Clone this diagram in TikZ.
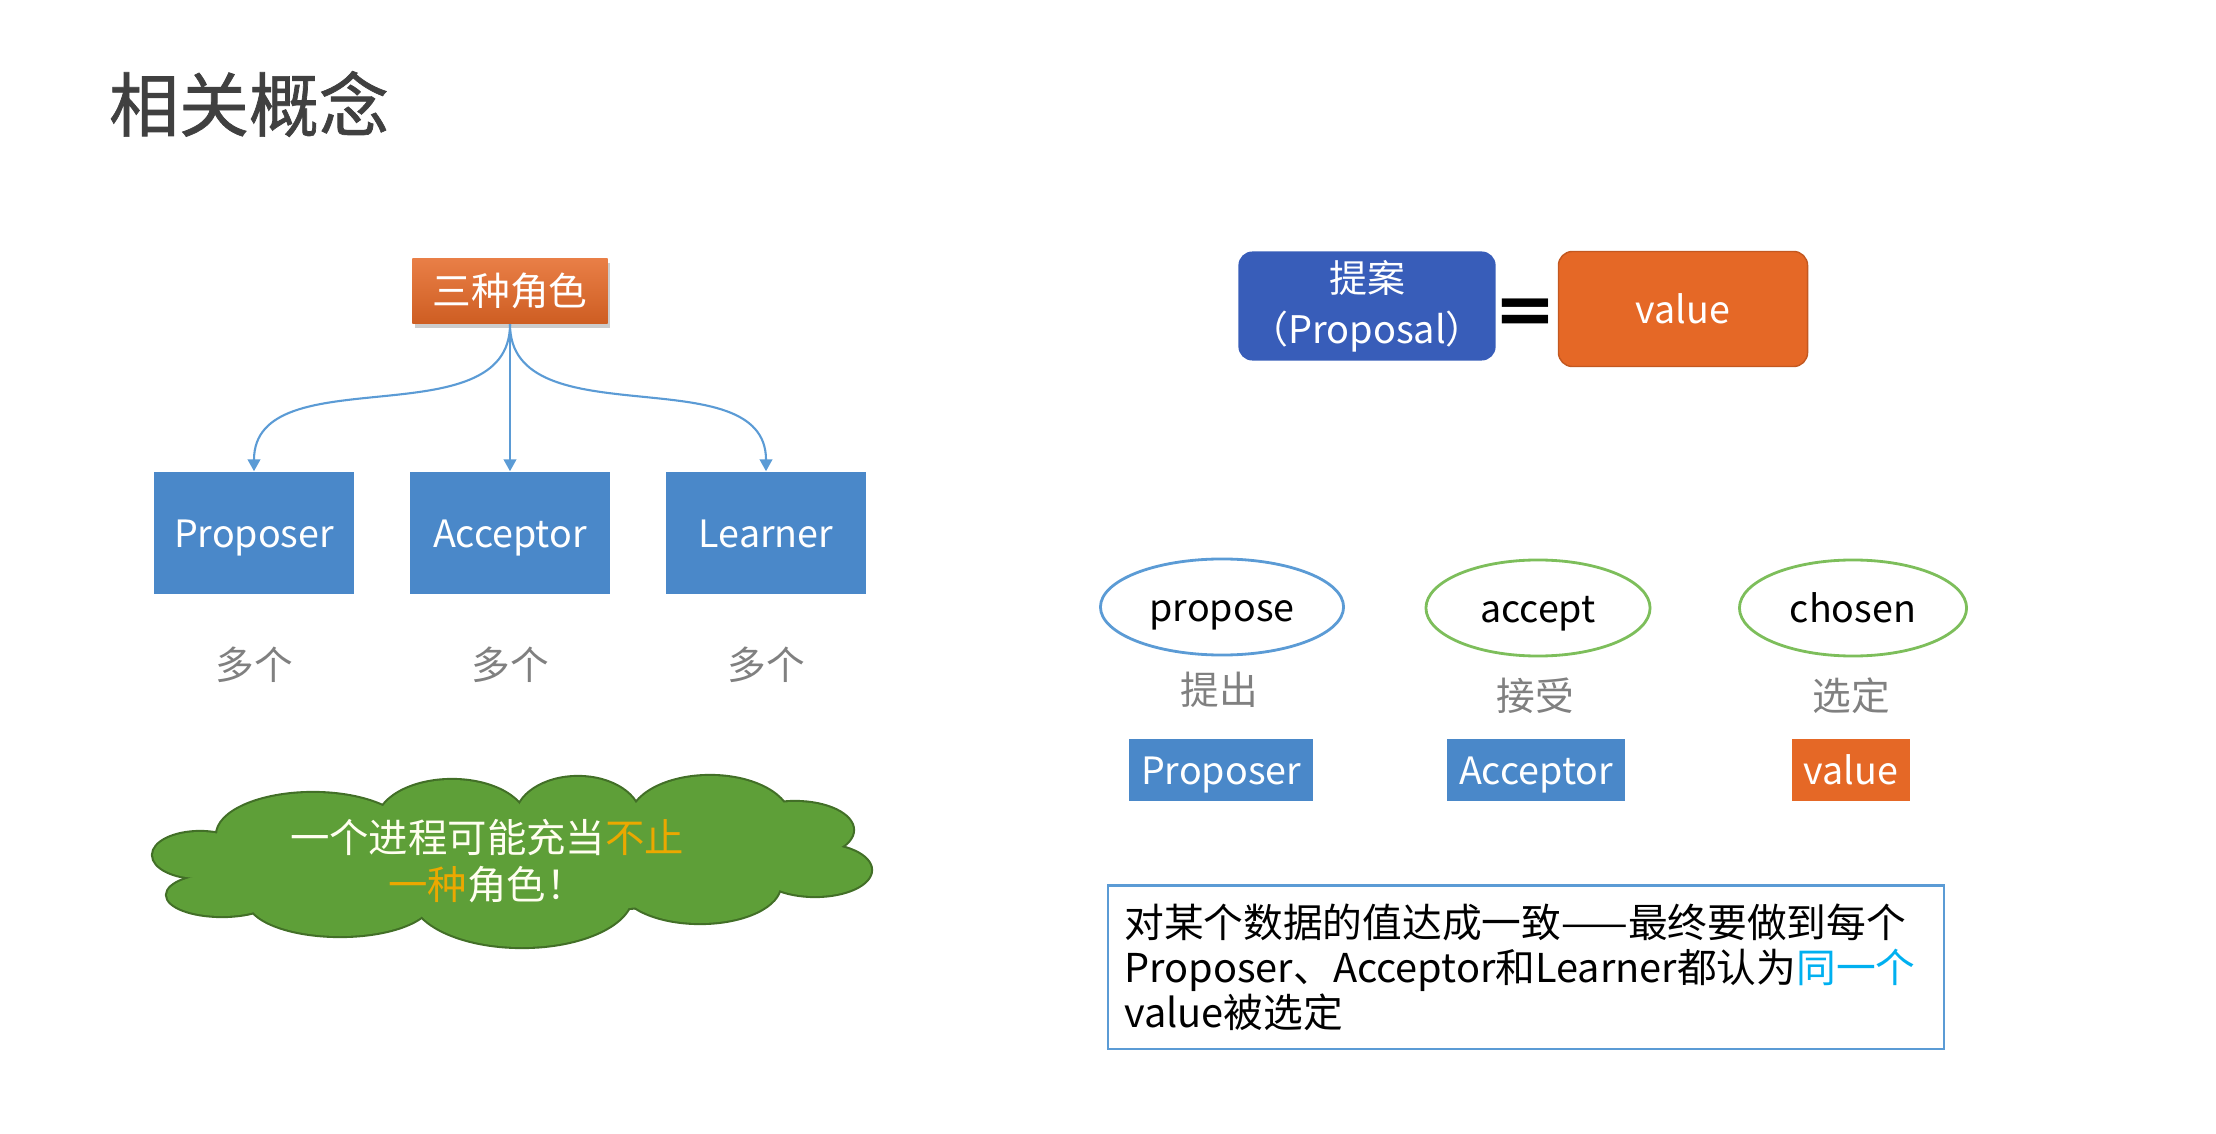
\documentclass[tikz,border=0pt]{standalone}
\usepackage{fontspec}
\setmainfont{Noto Sans CJK SC}
\newfontfamily\titlefont{Noto Sans CJK SC}[FakeBold=1]
\newfontfamily\symfont{DejaVu Sans}
\usetikzlibrary{shapes.geometric,arrows.meta,shadows}

\definecolor{titlegray}{HTML}{404040}
\definecolor{labelgray}{HTML}{808080}
\definecolor{boxblue}{HTML}{4A88C9}
\definecolor{deepblue}{HTML}{385DB9}
\definecolor{valueorange}{HTML}{E56826}
\definecolor{linkblue}{HTML}{5B9BD5}
\definecolor{actgreen}{HTML}{7DBE5B}
\definecolor{cloudgreen}{HTML}{5E9F38}
\definecolor{tipyellow}{HTML}{EBA800}
\definecolor{samecyan}{HTML}{00B0F0}

\tikzset{
  latin/.style={text height=0.8em, text depth=0pt},
  rolehead/.style={top color=valueorange!85!white, bottom color=valueorange!90!black,
    text=white, minimum width=1.95cm, minimum height=0.65cm,
    font=\fontsize{11}{13}\selectfont,
    drop shadow={shadow xshift=0.6pt, shadow yshift=-1.2pt, opacity=0.4}},
  rolebox/.style={latin, fill=boxblue, text=white, minimum width=1.99cm, minimum height=1.22cm,
    font=\fontsize{10.7}{13}\selectfont},
  countlabel/.style={text=labelgray, font=\fontsize{11}{13}\selectfont},
  rolearrow/.style={draw=linkblue, line width=0.6pt, -{Triangle[length=3.4pt,width=3.6pt]}},
  bubbletext/.style={text=white!94!yellow, align=center, font=\fontsize{11.2}{13.4}\selectfont},
  proposalbox/.style={fill=deepblue, rounded corners=0.14cm, text=white, align=center,
    inner ysep=1pt, minimum width=2.45cm, minimum height=1.09cm,
    font=\fontsize{10.8}{14.5}\selectfont},
  valuebox/.style={latin, fill=valueorange, draw=valueorange!85!black, rounded corners=0.14cm,
    text=white, minimum width=2.49cm, minimum height=1.15cm, font=\fontsize{10.7}{13}\selectfont},
  action/.style={latin, ellipse, line width=0.8pt, minimum width=2.43cm, minimum height=0.96cm,
    font=\fontsize{10.7}{13}\selectfont},
  smallbox/.style={latin, text=white, minimum width=1.76cm, minimum height=0.62cm,
    font=\fontsize{10.7}{13}\selectfont},
  notebox/.style={draw=linkblue, line width=0.6pt, align=left, text width=8.03cm,
    inner xsep=0.16cm, minimum height=1.63cm, font=\fontsize{11.3}{12.8}\selectfont}
}

\begin{document}
\begin{tikzpicture}[x=0.01cm, y=-0.01cm]
    \useasboundingbox (0,0) rectangle (2216,1134);
    % Title
    \node[text=titlegray, font=\titlefont\fontsize{19.9}{24}\selectfont] (title) at (249,104) {相关概念};

    % Three roles
    \node[rolehead] (roles) at (510,291) {三种角色};
    \node[rolebox] (proposer) at (254,533) {Proposer};
    \node[rolebox] (acceptor) at (510,533) {Acceptor};
    \node[rolebox] (learner) at (766,533) {Learner};
    \node[countlabel] (cntproposer) at (254,665) {多个};
    \node[countlabel] (cntacceptor) at (510,665) {多个};
    \node[countlabel] (cntlearner) at (766,665) {多个};
    \draw[rolearrow] (roles.south) to[out=-90, in=90] (proposer.north);
    \draw[rolearrow] (roles.south) -- (acceptor.north);
    \draw[rolearrow] (roles.south) to[out=-90, in=90] (learner.north);

    % Cloud: outline pass, then fill pass
    \def\puffs{200/855/47/23, 222/895/55/21, 340/900/92/36, 522/895/110/52, 700/885/80/38,
      815/870/56/26, 795/830/58/28, 710/820/80/44, 578/818/62/41, 452/823/75/43,
      313/835/96/42, 510/862/300/50}
    \foreach \cx/\cy/\rx/\ry in \puffs
      \draw[cloudgreen!70!black, line width=1.2pt] (\cx,\cy) ellipse [x radius={\rx*0.01cm}, y radius={\ry*0.01cm}];
    \foreach \cx/\cy/\rx/\ry in \puffs
      \fill[cloudgreen] (\cx,\cy) ellipse [x radius={\rx*0.01cm}, y radius={\ry*0.01cm}];
    \node[bubbletext] (cloudtxt) at (487,861)
        {一个进程可能充当\textcolor{tipyellow}{不止}\\\textcolor{tipyellow}{一种}角色！};

    % Proposal = value
    \node[proposalbox] (proposal) at (1367,306) {提案\\（Proposal）};
    \node[inner sep=0pt, font=\symfont\bfseries\fontsize{21}{21}\selectfont] (equals) at (1525,317) {=};
    \node[valuebox] (value) at (1683,309) {value};

    % Actions
    \node[action, draw=linkblue] (propose) at (1222,607) {propose};
    \node[action, draw=actgreen, minimum width=2.24cm] (accept) at (1538,608) {accept};
    \node[action, draw=actgreen, minimum width=2.27cm] (chosen) at (1853,608) {chosen};
    \node[countlabel] (lblpropose) at (1219,690) {提出};
    \node[countlabel] (lblaccept) at (1535,696) {接受};
    \node[countlabel] (lblchosen) at (1851,696) {选定};
    \node[smallbox, fill=boxblue] (whoproposes) at (1221,770) {Proposer};
    \node[smallbox, fill=boxblue] (whoaccepts) at (1536,770) {Acceptor};
    \node[smallbox, fill=valueorange, minimum width=1.17cm] (whatchosen) at (1851,770) {value};

    % Consensus note
    \node[notebox] (note) at (1526,967) {对某个数据的值达成一致——最终要做到每个\\Proposer、Acceptor和Learner都认为\textcolor{samecyan}{同一个}\\value被选定};
\end{tikzpicture}
\end{document}
